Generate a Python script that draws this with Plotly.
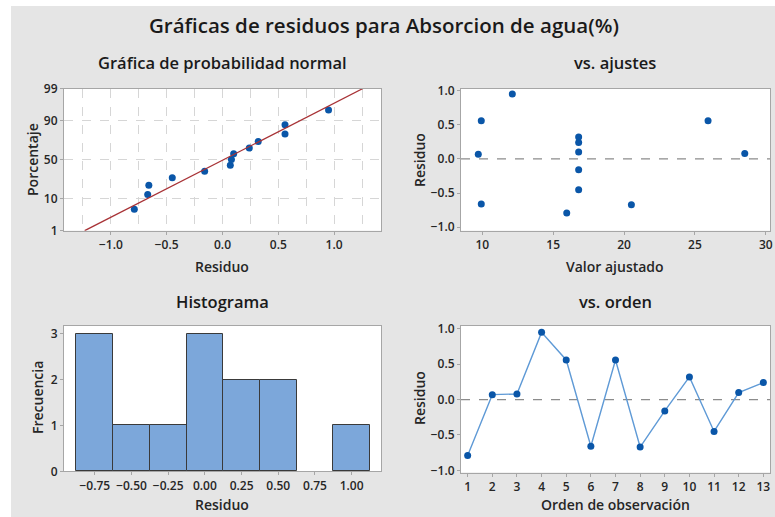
import plotly.graph_objects as go
from statistics import NormalDist, mean, stdev

# ---- data ----
order = list(range(1, 14))
residuals = [-0.79, 0.07, 0.08, 0.95, 0.56, -0.66, 0.56, -0.67, -0.16, 0.32, -0.45, 0.10, 0.24]
fitted = [15.96, 9.72, 28.52, 12.12, 9.93, 9.93, 25.93, 20.52, 16.8, 16.8, 16.8, 16.8, 16.8]
prob_ticks = [1, 10, 50, 90, 99]

W, H = 775, 517
nd = NormalDist()

def dx(a, b):
    return [a / W, b / W]

def dy(top, bot):
    return [1 - bot / H, 1 - top / H]

FONT = "Open Sans"
BLUE = "#0a56a8"
AX = "#a6a6a6"
TXT = "#262626"

fig = go.Figure()

# ---- normal probability plot ----
srt = sorted(residuals)
n = len(srt)
pz = [nd.inv_cdf((i + 1 - 0.3) / (n + 0.4)) for i in range(n)]
fig.add_trace(go.Scatter(x=srt, y=pz, mode="markers", xaxis="x", yaxis="y",
                         marker=dict(color=BLUE, size=7), showlegend=False, cliponaxis=False))
m, s = mean(residuals), stdev(residuals)
zlo, zhi = nd.inv_cdf(0.01), nd.inv_cdf(0.99)
fig.add_trace(go.Scatter(x=[m + zlo * s, m + zhi * s], y=[zlo, zhi], mode="lines",
                         xaxis="x", yaxis="y", line=dict(color="#a83236", width=1.3),
                         showlegend=False))

# ---- vs fits ----
fig.add_trace(go.Scatter(x=fitted, y=residuals, mode="markers", xaxis="x2", yaxis="y2",
                         marker=dict(color=BLUE, size=7), showlegend=False))

# ---- histogram ----
fig.add_trace(go.Histogram(x=residuals, xaxis="x3", yaxis="y3",
                           xbins=dict(start=-0.875, end=1.125, size=0.25),
                           marker=dict(color="#7ca7da", line=dict(color="#3a3a3a", width=1)),
                           showlegend=False))

# ---- vs order ----
fig.add_trace(go.Scatter(x=order, y=residuals, mode="lines+markers", xaxis="x4", yaxis="y4",
                         line=dict(color="#5f9ad6", width=1.4),
                         marker=dict(color=BLUE, size=7), showlegend=False))

tickfont = dict(family=FONT, size=12, color=TXT, weight=600)
common = dict(showline=True, linecolor=AX, linewidth=1, mirror=True, ticks="outside",
              ticklen=3, tickcolor=AX, tickfont=tickfont, zeroline=False, automargin=False)

fig.update_layout(
    width=W, height=H,
    margin=dict(l=0, r=0, t=0, b=0, autoexpand=False),
    paper_bgcolor="#e5e5e5",
    plot_bgcolor="white",
    bargap=0,
    xaxis=dict(domain=dx(64, 381), anchor="y", range=[-1.42, 1.42],
               tickvals=[-1.0, -0.5, 0.0, 0.5, 1.0], tickformat=".1f",
               showgrid=True, gridcolor="#d6d6d6", griddash="dash",
               minor=dict(dtick=0.25, tick0=0, showgrid=True, gridcolor="#d6d6d6", griddash="dash"),
               **common),
    yaxis=dict(domain=dy(88.5, 230.7), anchor="x", range=[zlo, zhi],
               tickvals=[nd.inv_cdf(p / 100) for p in prob_ticks],
               ticktext=[str(p) for p in prob_ticks],
               showgrid=True, gridcolor="#d6d6d6", griddash="dash", **common),
    xaxis2=dict(domain=dx(461, 770), anchor="y2", range=[8.5, 30.3],
                tickvals=[10, 15, 20, 25, 30], showgrid=False, **common),
    yaxis2=dict(domain=dy(88.5, 230.7), anchor="x2", range=[-1.05, 1.03],
                tickvals=[-1.0, -0.5, 0.0, 0.5, 1.0], tickformat=".1f", showgrid=False, **common),
    xaxis3=dict(domain=dx(64, 381), anchor="y3", range=[-0.96, 1.2],
                tickvals=[-0.75, -0.5, -0.25, 0.0, 0.25, 0.5, 0.75, 1.0], tickformat=".2f",
                showgrid=False, **common),
    yaxis3=dict(domain=dy(326, 471.3), anchor="x3", range=[0, 3.17],
                tickvals=[0, 1, 2, 3], showgrid=False, **common),
    xaxis4=dict(domain=dx(461, 770), anchor="y4", range=[0.73, 13.27],
                tickvals=order, showgrid=False, **common),
    yaxis4=dict(domain=dy(326, 472.5), anchor="x4", range=[-1.03, 1.04],
                tickvals=[-1.0, -0.5, 0.0, 0.5, 1.0], tickformat=".1f", showgrid=False, **common),
)

# zero reference lines
for xr, yr in [("x2 domain", "y2"), ("x4 domain", "y4")]:
    fig.add_shape(type="line", xref=xr, yref=yr, x0=0, x1=1, y0=0, y1=0,
                  line=dict(color="#8c8c8c", width=1.2, dash="dash"), layer="below")

# white strips at the top and left (outside the grey frame)
fig.add_shape(type="rect", xref="paper", yref="paper", x0=0, x1=1, y0=1 - 6 / H, y1=1,
              fillcolor="white", line=dict(width=0), layer="above")
fig.add_shape(type="rect", xref="paper", yref="paper", x0=0, x1=11 / W, y0=0, y1=1,
              fillcolor="white", line=dict(width=0), layer="above")

def ann(text, x, y, size, angle=0, weight=600, color=TXT):
    fig.add_annotation(text=text, xref="paper", yref="paper",
                       x=x / W, y=1 - y / H,
                       showarrow=False, textangle=angle, xanchor="center", yanchor="middle",
                       font=dict(family=FONT, size=size, color=color, weight=weight))

ann("Gráficas de residuos para Absorcion de agua(%)", 384, 25, 20.5, color="#1a1a1a")
ann("Gráfica de probabilidad normal", 222, 63, 16.5, color="#1a1a1a")
ann("vs. ajustes", 615, 63, 16.5, color="#1a1a1a")
ann("Histograma", 222, 301, 16.5, color="#1a1a1a")
ann("vs. orden", 615, 301, 16.5, color="#1a1a1a")
ann("Residuo", 222, 266, 14)
ann("Valor ajustado", 615, 266, 14)
ann("Residuo", 222, 504, 14)
ann("Orden de observación", 615, 504, 14)
ann("Porcentaje", 32, 160, 14, angle=-90)
ann("Residuo", 419, 160, 14, angle=-90)
ann("Frecuencia", 37, 398, 14, angle=-90)
ann("Residuo", 419, 398, 14, angle=-90)

fig.write_html("out.html",
               config={"displayModeBar": False},
               post_script="document.body.style.margin='0';document.body.style.overflow='hidden';"
                           "document.documentElement.style.overflow='hidden';")
